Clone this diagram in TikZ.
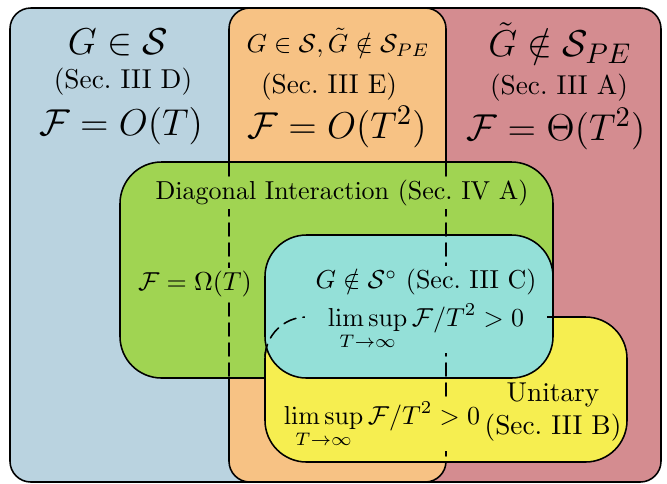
\documentclass[tikz,border=0pt]{standalone}
\usepackage{amsmath, amssymb}
\usetikzlibrary{positioning}
\definecolor{setblue}{HTML}{BAD3E0}
\definecolor{setred}{HTML}{D48C90}
\definecolor{setorange}{HTML}{F7C284}
\definecolor{setgreen}{HTML}{A0D452}
\definecolor{setcyan}{HTML}{94E0D8}
\definecolor{setyellow}{HTML}{F6EE50}
\tikzset{
  every picture/.style={line cap=round, line join=round},
  % outer sets share one corner radius, inner sets a larger one
  outerset/.style={draw, rounded corners=8pt},
  innerset/.style={draw, rounded corners=16pt},
  hidden/.style={dash pattern=on 5pt off 2.7pt},
  label/.style={inner sep=1pt},
  bigmath/.style={label, font=\fontsize{15.5}{18}\selectfont},
  seclabel/.style={label, font=\fontsize{10.5}{12.5}\selectfont},
}
\begin{document}
\begin{tikzpicture}[x=0.385pt, y=-0.385pt, line width=0.6pt]
  \useasboundingbox (0,0) rectangle (667,483);
  % left and right halves of the outer set
  \fill[setblue, rounded corners=8pt] (10,8) rectangle (661,482);
  \begin{scope}
    \clip[rounded corners=8pt] (10,8) rectangle (661,482);
    \fill[setred] (337,0) rectangle (670,490);
  \end{scope}
  \draw[outerset] (10,8) rectangle (661,482);
  \draw[outerset, fill=setorange] (229,8) rectangle (446,482);
  % inner sets
  \draw[innerset, fill=setgreen] (120,162) rectangle (553,378);
  \draw[innerset, fill=setyellow] (265,317) rectangle (627,462);
  \draw[innerset, fill=setcyan] (265,235) rectangle (553,378);
  % hidden borders
  \draw[hidden] (229,163) -- (229,377);
  \draw[hidden] (446,163) -- (446,461);
  \draw[hidden, rounded corners=16pt] (265,377) -- (265,317) -- (552,317);
  % top row
  \node[bigmath, fill=setblue] (blueset) at (118,42) {$G \in \mathcal{S}$};
  \node[seclabel, fill=setblue] (bluesec) at (123,82) {(Sec.~III D)};
  \node[bigmath, fill=setblue] (bluerate) at (121,126) {$\mathcal{F} = O(T)$};
  \node[label, fill=setorange] (orangeset) at (338,43) {$G \in \mathcal{S}, \tilde{G} \notin \mathcal{S}_{PE}$};
  \node[seclabel, fill=setorange] (orangesec) at (329,87) {(Sec.~III E)};
  \node[bigmath, fill=setorange] (orangerate) at (337,127) {$\mathcal{F} = O(T^2)$};
  \node[bigmath, fill=setred] (redset) at (560,43) {$\tilde{G} \notin \mathcal{S}_{PE}$};
  \node[seclabel, fill=setred] (redsec) at (559,88) {(Sec.~III A)};
  \node[bigmath, fill=setred] (redrate) at (556,129) {$\mathcal{F} = \Theta(T^2)$};
  % inner sets
  \node[label, fill=setgreen] (diag) at (342,193) {Diagonal Interaction (Sec.~IV A)};
  \node[label, fill=setgreen] (diagrate) at (195,284) {$\mathcal{F} = \Omega(T)$};
  \node[label, fill=setcyan] (cyanset) at (426,282) {$G \notin \mathcal{S}^{\circ}$ (Sec.~III C)};
  \node[label, fill=setcyan, minimum width=93pt] (cyanrate) at (426,327) {$\displaystyle\limsup_{T\to\infty} \mathcal{F}/T^2 > 0$};
  \node[label, fill=setyellow] (yellowrate) at (382,425) {$\displaystyle\limsup_{T\to\infty} \mathcal{F}/T^2 > 0$};
  \node[seclabel, align=center] (unitary) at (553,412) {Unitary\\(Sec.~III B)};
\end{tikzpicture}
\end{document}
